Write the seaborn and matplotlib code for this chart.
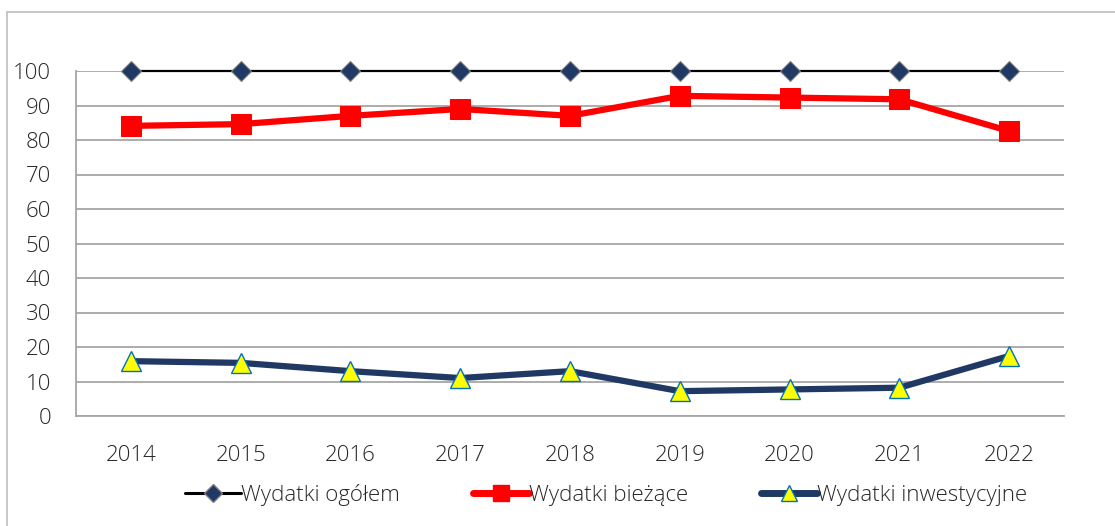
import pandas as pd
import matplotlib.pyplot as plt
from matplotlib.lines import Line2D
import seaborn as sns

lata = ["2014", "2015", "2016", "2017", "2018", "2019", "2020", "2021", "2022"]
wydatkiOgolem = [100, 100, 100, 100, 100, 100, 100, 100, 100]
wydatkiBiezace = [84.1, 84.6, 87.0, 89.0, 87.0, 92.8, 92.3, 91.8, 82.6]
wydatkiInwestycyjne = [15.9, 15.4, 13.0, 11.0, 13.0, 7.2, 7.7, 8.2, 17.4]

nazwySerii = ["Wydatki ogółem", "Wydatki bieżące", "Wydatki inwestycyjne"]

sns.set_style("white")
plt.rcParams['font.family'] = ['Open Sans', 'DejaVu Sans']
plt.rcParams['font.weight'] = 'light'

granat = "#1F3864"
szary = "#A6A6A6"
tekst = "#262626"

fig = plt.figure(figsize=(11.15, 5.26), dpi=100)
ax = fig.add_axes([76 / 1115, 1 - 416 / 526, (1064 - 76) / 1115, (416 - 71) / 526])

# ramka całego wykresu (jak w Excelu)
fig.add_artist(Line2D([7 / 1115, 7 / 1115], [0, 1 - 12 / 526], color="#BFBFBF", lw=1.2))
fig.add_artist(Line2D([7 / 1115, 1], [1 - 12 / 526, 1 - 12 / 526], color="#BFBFBF", lw=1.2))

dane = pd.DataFrame({"rok": lata, "ogolem": wydatkiOgolem,
                     "biezace": wydatkiBiezace, "inwest": wydatkiInwestycyjne})

sns.lineplot(data=dane, x="rok", y="ogolem", ax=ax, color="black", lw=1.6,
             marker="D", markersize=10, markerfacecolor=granat,
             markeredgecolor="#7F7F7F", markeredgewidth=0.8, clip_on=False, zorder=4)
sns.lineplot(data=dane, x="rok", y="biezace", ax=ax, color="#FF0000", lw=4.5,
             marker="s", markersize=14, markerfacecolor="#FF0000",
             markeredgecolor="#FF0000", clip_on=False, zorder=4)
sns.lineplot(data=dane, x="rok", y="inwest", ax=ax, color=granat, lw=4.5,
             marker="^", markersize=15, markerfacecolor="#FFFF00",
             markeredgecolor="#0070C0", markeredgewidth=1.0, clip_on=False, zorder=4)

ax.set_xlim(-0.5, len(lata) - 0.5)
ax.set_ylim(0, 100)
ax.set_yticks(range(0, 101, 10))
ax.yaxis.grid(True, color=szary, lw=1.3)
ax.set_axisbelow(True)
ax.set_xlabel("")
ax.set_ylabel("")

for s in ["top", "right"]:
    ax.spines[s].set_visible(False)
for s in ["left", "bottom"]:
    ax.spines[s].set_color(szary)
    ax.spines[s].set_linewidth(1.3)

ax.tick_params(axis="both", length=0, labelsize=16, colors=tekst)
ax.tick_params(axis="x", pad=21)
ax.tick_params(axis="y", pad=18)

uchwyty = [
    Line2D([], [], color="black", lw=2.2, marker="D", markersize=9,
           markerfacecolor=granat, markeredgecolor="#7F7F7F"),
    Line2D([], [], color="#FF0000", lw=5, marker="s", markersize=11,
           markerfacecolor="#FF0000", markeredgecolor="#FF0000"),
    Line2D([], [], color=granat, lw=5, marker="^", markersize=12,
           markerfacecolor="#FFFF00", markeredgecolor="#0070C0"),
]
fig.legend(uchwyty, nazwySerii, loc="center", bbox_to_anchor=(606 / 1115, 1 - 495 / 526),
           ncol=3, frameon=False, fontsize=16, handlelength=2.5, handletextpad=0.0,
           columnspacing=3.3, labelcolor=tekst)

fig.savefig("out.png", dpi=100)
